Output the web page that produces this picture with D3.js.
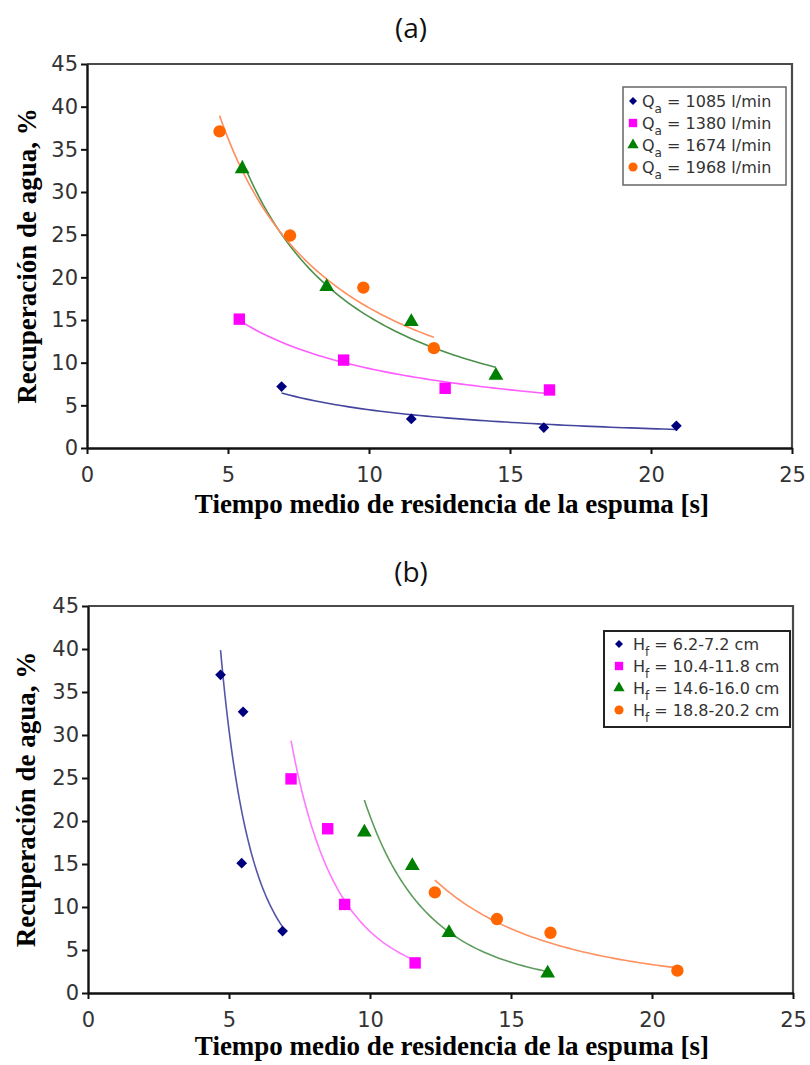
<!DOCTYPE html>
<html>
<head>
<meta charset="utf-8">
<script src="https://cdn.jsdelivr.net/npm/d3@7/dist/d3.min.js"></script>
<style>
  html, body { margin: 0; padding: 0; background: #fff; }
  svg { display: block; }
</style>
</head>
<body>
<svg id="chart" width="810" height="1065"></svg>
<script>
// ---------- data ----------
const xTicks = [0, 5, 10, 15, 20, 25];
const yTicks = [0, 5, 10, 15, 20, 25, 30, 35, 40, 45];
const titleA = "(a)";
const titleB = "(b)";
const xLabel = "Tiempo medio de residencia de la espuma [s]";
const yLabel = "Recuperación de agua, %";

// panel (a): air flow rate Qa
const aNames = ["1085 l/min", "1380 l/min", "1674 l/min", "1968 l/min"];
const a1085X = [6.9, 11.5, 16.2, 20.9];
const a1085Y = [7.2, 3.4, 2.4, 2.6];
const a1380X = [5.4, 9.1, 12.7, 16.4];
const a1380Y = [15.1, 10.3, 7.0, 6.8];
const a1674X = [5.5, 8.5, 11.5, 14.5];
const a1674Y = [32.7, 18.9, 14.8, 8.5];
const a1968X = [4.7, 7.2, 9.8, 12.3];
const a1968Y = [37.1, 24.9, 18.8, 11.7];

// panel (b): froth height Hf
const bNames = ["6.2-7.2 cm", "10.4-11.8 cm", "14.6-16.0 cm", "18.8-20.2 cm"];
const b6X = [4.7, 5.5, 5.45, 6.9];
const b6Y = [37.0, 32.7, 15.1, 7.2];
const b10X = [7.2, 8.5, 9.1, 11.6];
const b10Y = [24.9, 19.1, 10.3, 3.5];
const b14X = [9.8, 11.5, 12.8, 16.3];
const b14Y = [18.7, 14.8, 7.0, 2.3];
const b18X = [12.3, 14.5, 16.4, 20.9];
const b18Y = [11.7, 8.6, 7.0, 2.6];

// ---------- styles ----------
const markerColors = ["#00007f", "#ff00ff", "#008000", "#ff6600"];
const lineColorsA = ["#45459e", "#ff5cff", "#4a8f4a", "#ff8f5e"];
const lineColorsB = ["#5656a8", "#ff7aff", "#5e9c5e", "#ff9060"];
const shapes = [d3.symbolSquare, d3.symbolSquare, d3.symbolTriangle, d3.symbolCircle];
const rotations = [45, 0, 0, 0];
const markerSizes = [58, 130, 95, 120];
const legendSizes = [32, 70, 55, 65];

const svg = d3.select("#chart");

// power-law least-squares fit (trendline) computed from the data
function powerFit(xs, ys) {
  const lx = xs.map(Math.log), ly = ys.map(Math.log);
  const mx = d3.mean(lx), my = d3.mean(ly);
  let sxy = 0, sxx = 0;
  for (let i = 0; i < lx.length; i++) {
    sxy += (lx[i] - mx) * (ly[i] - my);
    sxx += (lx[i] - mx) * (lx[i] - mx);
  }
  const b = sxy / sxx;
  const a = Math.exp(my - b * mx);
  return x => a * Math.pow(x, b);
}

function panel(opt) {
  const x = d3.scaleLinear().domain([0, 25]).range([opt.left, opt.right]);
  const y = d3.scaleLinear().domain([0, 45]).range([opt.bottom, opt.top]);
  const g = svg.append("g");

  // frame (top & right)
  g.append("path")
    .attr("d", `M${opt.left},${opt.top}H${opt.right}V${opt.bottom}`)
    .attr("fill", "none").attr("stroke", "#4a4a4a").attr("stroke-width", 2.2);

  // axes
  const yAxis = g.append("g").attr("transform", `translate(${opt.left},0)`)
    .call(d3.axisLeft(y).tickValues(yTicks).tickSize(6).tickSizeOuter(0).tickPadding(3));
  const xAxis = g.append("g").attr("transform", `translate(0,${opt.bottom})`)
    .call(d3.axisBottom(x).tickValues(xTicks).tickSize(6).tickSizeOuter(0).tickPadding(13));
  [xAxis, yAxis].forEach(ax => {
    ax.select(".domain").attr("stroke", "#111").attr("stroke-width", 2.4);
    ax.selectAll(".tick line").attr("stroke", "#111").attr("stroke-width", 2);
    ax.selectAll(".tick text")
      .attr("font-family", "'DejaVu Sans', Verdana, sans-serif")
      .attr("font-size", 21).attr("fill", "#333");
  });

  // trend lines
  opt.series.forEach((s, i) => {
    const f = powerFit(s.x, s.y);
    const x0 = d3.min(s.x), x1 = d3.max(s.x);
    const pts = d3.range(0, 61).map(k => {
      const xv = x0 + (x1 - x0) * k / 60;
      return [x(xv), y(f(xv))];
    });
    g.append("path").attr("d", d3.line()(pts))
      .attr("fill", "none").attr("stroke", opt.lineColors[i]).attr("stroke-width", 1.6);
  });

  // markers
  opt.series.forEach((s, i) => {
    g.selectAll(null).data(s.x.map((v, k) => [v, s.y[k]])).enter()
      .append("path")
      .attr("d", d3.symbol().type(shapes[i]).size(markerSizes[i]))
      .attr("transform", d => `translate(${x(d[0])},${y(d[1])}) rotate(${rotations[i]})`)
      .attr("fill", markerColors[i]);
  });

  // title
  svg.append("text").attr("x", opt.titleX).attr("y", opt.titleY)
    .attr("text-anchor", "middle")
    .attr("font-family", "'Open Sans', 'Noto Sans', sans-serif")
    .attr("font-size", 28).attr("fill", "#111").text(opt.title);

  // axis labels
  svg.append("text").attr("x", opt.xLabelX).attr("y", opt.xLabelY)
    .attr("text-anchor", "middle")
    .attr("font-family", "'Liberation Serif', 'Times New Roman', serif")
    .attr("font-weight", "bold").attr("font-size", 27).attr("fill", "#000")
    .text(xLabel);
  svg.append("text")
    .attr("transform", `translate(${opt.yLabelX},${(opt.top + opt.bottom) / 2}) rotate(-90)`)
    .attr("text-anchor", "middle")
    .attr("font-family", "'Liberation Serif', 'Times New Roman', serif")
    .attr("font-weight", "bold").attr("font-size", 27).attr("fill", "#000")
    .text(yLabel);

  // legend
  const L = opt.legend;
  g.append("rect").attr("x", L.x).attr("y", L.y).attr("width", L.w).attr("height", L.h)
    .attr("fill", "#fff").attr("stroke", L.stroke).attr("stroke-width", L.sw);
  opt.names.forEach((name, i) => {
    const cy = L.y + L.first + i * L.step;
    g.append("path")
      .attr("d", d3.symbol().type(shapes[i]).size(legendSizes[i]))
      .attr("transform", `translate(${L.mx},${cy}) rotate(${rotations[i]})`)
      .attr("fill", markerColors[i]);
    const t = g.append("text").attr("x", L.tx).attr("y", cy + 6)
      .attr("font-family", "'DejaVu Sans', Verdana, sans-serif")
      .attr("font-size", 16).attr("fill", "#333");
    t.append("tspan").text(opt.symbol);
    t.append("tspan").attr("font-size", 12).attr("dy", 6).text(opt.sub);
    t.append("tspan").attr("dy", -6).text(" = " + name);
  });
}

panel({
  left: 87, right: 792, top: 64, bottom: 448,
  title: titleA, titleX: 411, titleY: 38,
  xLabelX: 452, xLabelY: 513, yLabelX: 36,
  symbol: "Q", sub: "a", names: aNames, lineColors: lineColorsA,
  series: [{x: a1085X, y: a1085Y}, {x: a1380X, y: a1380Y}, {x: a1674X, y: a1674Y}, {x: a1968X, y: a1968Y}],
  legend: {x: 623, y: 87, w: 163, h: 98, first: 14, step: 22, mx: 633, tx: 642, stroke: "#666", sw: 1.5}
});

panel({
  left: 88, right: 793, top: 606, bottom: 993,
  title: titleB, titleX: 411, titleY: 582,
  xLabelX: 452, xLabelY: 1055, yLabelX: 35,
  symbol: "H", sub: "f", names: bNames, lineColors: lineColorsB,
  series: [{x: b6X, y: b6Y}, {x: b10X, y: b10Y}, {x: b14X, y: b14Y}, {x: b18X, y: b18Y}],
  legend: {x: 604, y: 631, w: 186, h: 96, first: 13, step: 22, mx: 619, tx: 633, stroke: "#222", sw: 2}
});
</script>
</body>
</html>
